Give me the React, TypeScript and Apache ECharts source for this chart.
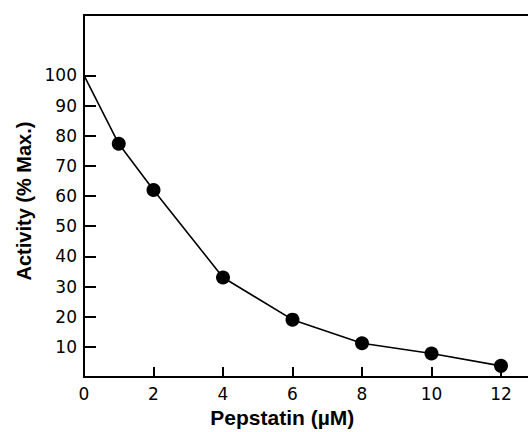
import React, { useEffect, useRef } from "react";
import * as echarts from "echarts";

const xValues = [0, 1, 2, 4, 6, 8, 10, 12];
const activity = [100, 77.3, 62, 33, 19, 11.2, 7.8, 3.7];
const xTickLabels = [0, 2, 4, 6, 8, 10, 12];
const xTicks = [2, 4, 6, 8, 10, 12];
const yTickLabels = [10, 20, 30, 40, 50, 60, 70, 80, 90, 100];

export default function App() {
  const ref = useRef<HTMLDivElement>(null);
  useEffect(() => {
    if (!ref.current) return;
    const chart = echarts.init(ref.current, undefined, { renderer: "svg" });
    const lineData = xValues.map((x, i) => [x, activity[i]]);
    const pointData = lineData.filter((d) => d[0] !== 0);
    chart.setOption({
      animation: false,
      backgroundColor: "#ffffff",
      grid: {
        left: 84,
        top: 15,
        width: 486.5,
        height: 362,
        outerBoundsMode: "none",
        containLabel: false,
        show: true,
        borderColor: "#000",
        borderWidth: 2,
      },
      xAxis: {
        type: "value",
        min: 0,
        max: 14,
        interval: 2,
        name: "Pepstatin (\u00b5M)",
        nameLocation: "middle",
        nameGap: 30,
        nameTextStyle: {
          fontFamily: "Liberation Sans",
          fontWeight: "bold",
          fontSize: 21,
          color: "#000",
          padding: [0, 90, 0, 0],
        },
        axisLine: { onZero: false, lineStyle: { color: "#000", width: 2 } },
        axisTick: {
          show: true,
          inside: true,
          length: 10,
          customValues: xTicks,
          lineStyle: { color: "#000", width: 2 },
        },
        axisLabel: {
          customValues: xTickLabels,
          margin: 8,
          fontFamily: "DejaVu Sans",
          fontSize: 17,
          color: "#000",
        },
        splitLine: { show: false },
      },
      yAxis: {
        type: "value",
        min: 0,
        max: 120,
        interval: 10,
        name: "Activity (% Max.)",
        nameLocation: "middle",
        nameRotate: 90,
        nameGap: 48,
        nameTextStyle: {
          fontFamily: "Liberation Sans",
          fontWeight: "bold",
          fontSize: 20,
          color: "#000",
          padding: [0, 10, 0, 0],
        },
        axisLine: { show: true, lineStyle: { color: "#000", width: 2 } },
        axisTick: {
          show: true,
          inside: true,
          length: 12,
          customValues: yTickLabels,
          lineStyle: { color: "#000", width: 2 },
        },
        axisLabel: {
          customValues: yTickLabels,
          margin: 7,
          fontFamily: "DejaVu Sans",
          fontSize: 17,
          color: "#000",
        },
        splitLine: { show: false },
      },
      series: [
        {
          type: "line",
          data: lineData,
          showSymbol: false,
          symbol: "none",
          lineStyle: { color: "#000", width: 1.6 },
          z: 2,
        },
        {
          type: "scatter",
          data: pointData,
          symbol: "circle",
          symbolSize: 14,
          itemStyle: { color: "#000", opacity: 1 },
          z: 3,
        },
      ],
    });
    return () => chart.dispose();
  }, []);
  return (
    <div
      ref={ref}
      style={{ position: "fixed", left: 0, top: 0, width: 528, height: 432 }}
    />
  );
}
